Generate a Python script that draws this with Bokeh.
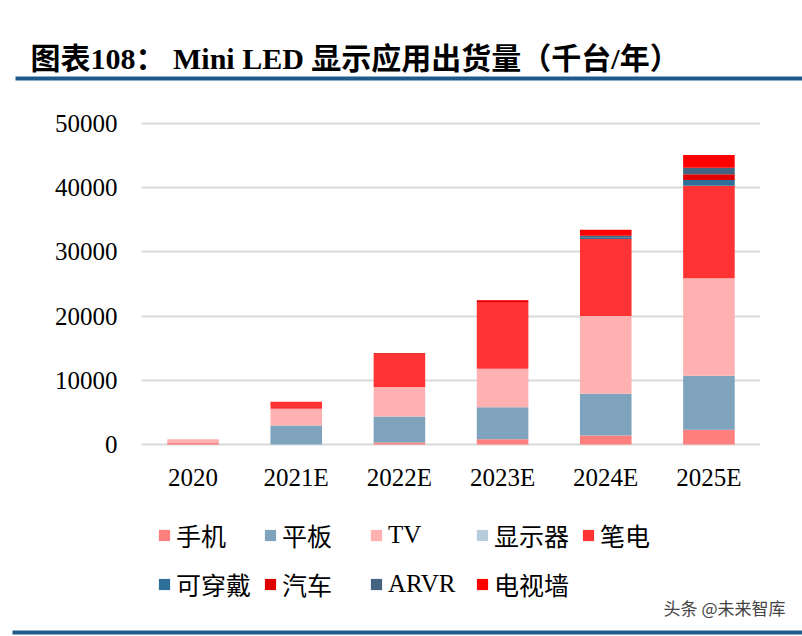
from bokeh.plotting import figure
from bokeh.layouts import column
from bokeh.models import (Legend, LegendItem, FixedTicker, NumeralTickFormatter,
                          Range1d, FactorRange, ColumnDataSource)
from bokeh.core.properties import value
from bokeh.embed import file_html
from bokeh.resources import INLINE

categories = ["2020", "2021E", "2022E", "2023E", "2024E", "2025E"]
series_names = ["手机", "平板", "TV", "显示器", "笔电", "可穿戴", "汽车", "ARVR", "电视墙"]
phone = [300, 0, 300, 800, 1400, 2300]
tablet = [0, 2950, 4050, 5000, 6500, 8400]
tv = [500, 2600, 4600, 6000, 12100, 15200]
monitor = [0, 0, 0, 0, 0, 0]
notebook = [0, 1100, 5200, 10400, 12000, 14400]
wearable = [0, 0, 0, 0, 200, 900]
car = [0, 0, 100, 200, 0, 900]
arvr = [0, 0, 0, 0, 300, 1000]
tvwall = [0, 0, 0, 100, 950, 2000]
y_ticks = [0, 10000, 20000, 30000, 40000, 50000]
title_text = "图表108：    Mini LED 显示应用出货量（千台/年）"
watermark_text = "头条 @未来智库"

colors = ["#FF7F7F", "#7FA3BD", "#FFB0B0", "#B7CCDA", "#FF3333",
          "#2E6F9A", "#E00000", "#426480", "#FF0000"]
keys = ["phone", "tablet", "tv", "monitor", "notebook", "wearable", "car", "arvr", "tvwall"]
RULE = "#1F5A8A"
SERIF = "Liberation Serif, Noto Sans CJK SC"

source = ColumnDataSource(dict(year=categories, phone=phone, tablet=tablet, tv=tv,
                               monitor=monitor, notebook=notebook, wearable=wearable,
                               car=car, arvr=arvr, tvwall=tvwall))


def blank_fig(h, ymax):
    f = figure(width=802, height=h, output_backend="svg", toolbar_location=None,
               x_range=Range1d(0, 802), y_range=Range1d(ymax, 0),
               x_axis_type=None, y_axis_type=None, min_border=0, frame_align=False)
    f.grid.grid_line_color = None
    f.outline_line_color = None
    f.background_fill_color = "white"
    f.border_fill_color = "white"
    return f


# ---- top strip: title + rule
top = blank_fig(100, 100)
top.text(x=[30], y=[58], text=[title_text], text_font=value(SERIF),
         text_font_style="bold", text_font_size="30px", text_baseline="middle",
         text_color="#000000")
top.quad(left=[15], right=[802], top=[76], bottom=[80], color=RULE, line_color=None)

# ---- main chart
p = figure(x_range=FactorRange(*categories), y_range=Range1d(-312, 50312),
           width=802, height=400, output_backend="svg", toolbar_location=None,
           min_border_left=141, min_border_right=42, min_border_top=21,
           min_border_bottom=54, frame_align=False)
p.outline_line_color = None
p.background_fill_color = "white"
p.border_fill_color = "white"

renderers = p.vbar_stack(keys, x="year", width=0.5, color=colors, source=source,
                         line_color=None)

p.x_range.range_padding = 0
p.xgrid.grid_line_color = None
p.ygrid.grid_line_color = "#D9D9D9"
p.ygrid.grid_line_width = 2
p.ygrid.ticker = FixedTicker(ticks=y_ticks)
p.yaxis.ticker = FixedTicker(ticks=y_ticks)
p.yaxis.formatter = NumeralTickFormatter(format="0")
for ax in (p.xaxis, p.yaxis):
    ax.axis_line_color = None
    ax.major_tick_line_color = None
    ax.minor_tick_line_color = None
    ax.major_label_text_font = "Liberation Serif"
    ax.major_label_text_font_size = "25px"
    ax.major_label_text_color = "#000000"
p.yaxis.major_tick_out = 0
p.yaxis.major_label_standoff = 24
p.xaxis.major_tick_out = 0
p.xaxis.major_label_standoff = 17

# ---- legend strip (legend swatches come from zero-height proxy bars)
bot = blank_fig(136, 136)
leg_renderers = [bot.vbar(x=[401], top=[0], bottom=[0], width=0.5,
                          color=c, line_color=None) for c in colors]
items = [LegendItem(label=n, renderers=[r]) for n, r in zip(series_names, leg_renderers)]


def make_legend(its, loc):
    return Legend(items=its, location=loc, orientation="horizontal",
                  label_text_font=SERIF, label_text_font_size="25px",
                  label_text_color="#000000",
                  glyph_width=14, glyph_height=14, label_standoff=5,
                  label_width=78, spacing=9, padding=0, margin=0,
                  border_line_color=None, background_fill_alpha=0)


bot.add_layout(make_legend(items[:5], (157, 83)))
bot.add_layout(make_legend(items[5:], (157, 34)))
bot.text(x=[785], y=[107], text=[watermark_text], text_font=value("Noto Sans CJK SC"),
         text_font_size="17px", text_align="right", text_baseline="middle",
         text_color="#444444")
bot.quad(left=[12], right=[802], top=[130], bottom=[134], color=RULE, line_color=None)

layout = column(top, p, bot, spacing=0)
open("out.html", "w").write(file_html(layout, INLINE))
